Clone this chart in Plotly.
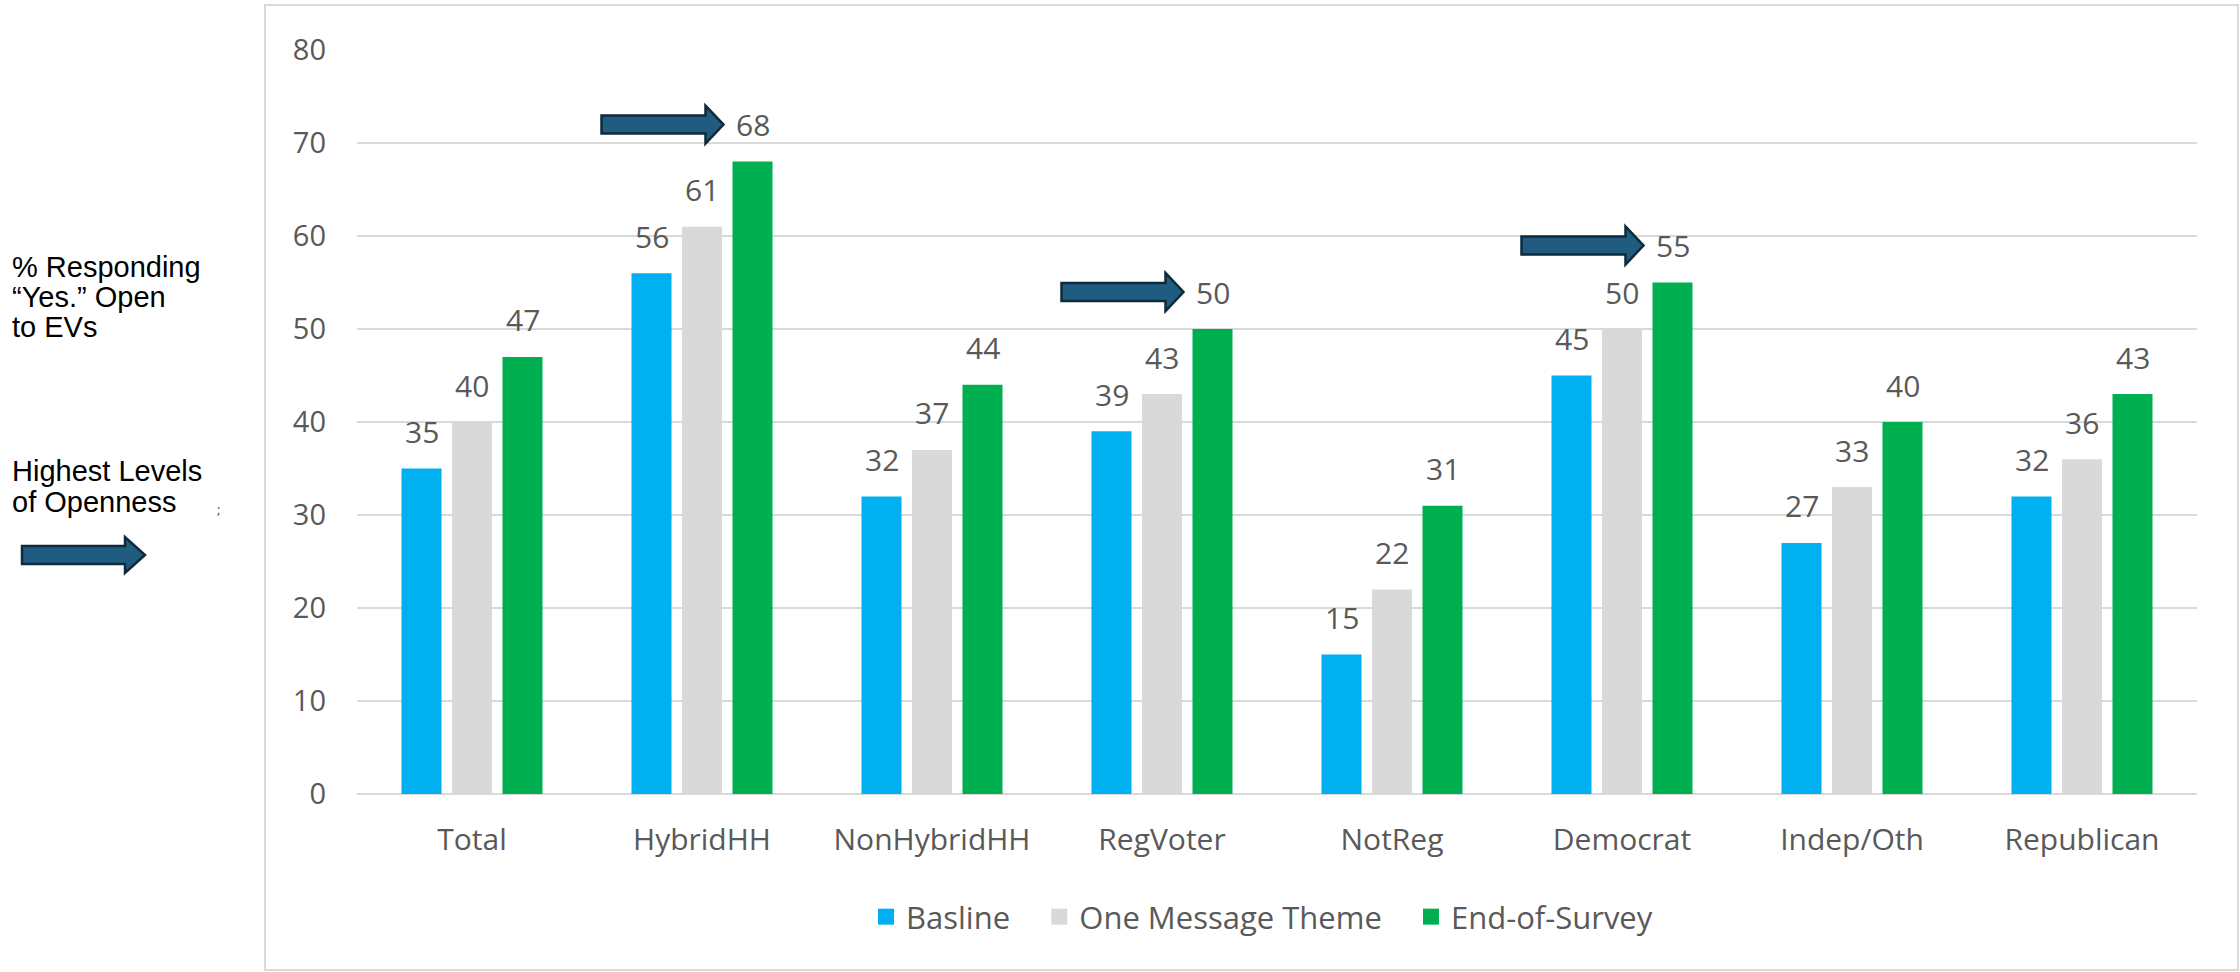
import plotly.graph_objects as go

categories = ["Total", "HybridHH", "NonHybridHH", "RegVoter", "NotReg", "Democrat", "Indep/Oth", "Republican"]
baseline = [35, 56, 32, 39, 15, 45, 27, 32]
one_message = [40, 61, 37, 43, 22, 50, 33, 36]
end_of_survey = [47, 68, 44, 50, 31, 55, 40, 43]
series_names = ["Basline", "One Message Theme", "End-of-Survey"]
series_colors = ["#00B0F0", "#D9D9D9", "#00B050"]
highlight = ["HybridHH", "RegVoter", "Democrat"]
y_ticks = [0, 10, 20, 30, 40, 50, 60, 70, 80]
side_lines_1 = ["% Responding", "\u201cYes.\u201d Open", "to EVs"]
side_lines_2 = ["Highest Levels", "of Openness"]

W, H = 2240, 972
ML, MR, MT, MB = 357, 43, 50, 178
GRID = "#D9D9D9"
TXT = "#595959"
FONT = "Open Sans"
ARROW_FILL = "#1F5C80"
ARROW_LINE = "#0E2A3C"
PAD = "\u00a0\u00a0\u00a0"

fig = go.Figure()
all_series = [baseline, one_message, end_of_survey]
for name, vals, col in zip(series_names, all_series, series_colors):
    fig.add_trace(go.Bar(x=categories, y=vals, name=name, marker=dict(color=col, line=dict(width=0)),
                         showlegend=False))
# legend proxies (larger square symbols)
for k, (name, col) in enumerate(zip(series_names, series_colors)):
    label = name + (PAD if k < len(series_names) - 1 else "")
    fig.add_trace(go.Scatter(x=[None], y=[None], mode="markers", name=label,
                             marker=dict(symbol="square", size=20, color=col)))

# data labels
slot = 50.5
annotations = []
for si, vals in enumerate(all_series):
    for c, v in zip(categories, vals):
        annotations.append(dict(x=c, y=v, xref="x", yref="y", text=str(v), showarrow=False,
                                xanchor="center", yanchor="middle", xshift=(si - 1) * slot, yshift=37,
                                font=dict(family=FONT, size=30, color=TXT)))

# left side text
def side_text(txt, py, size=29, color="#000000", family="Liberation Sans"):
    return dict(x=0, y=1, xref="paper", yref="paper", text=txt, showarrow=False, borderpad=0,
                xanchor="left", yanchor="middle", xshift=11 - ML, yshift=MT - py,
                font=dict(family=family, size=size, color=color))

for txt, py in zip(side_lines_1, [267, 297, 327]):
    annotations.append(side_text(txt, py))
for txt, py in zip(side_lines_2, [471, 502]):
    annotations.append(side_text(txt, py))
annotations.append(dict(x=0, y=1, xref="paper", yref="paper", text=";", showarrow=False,
                        xanchor="center", yanchor="middle", xshift=218 - ML, yshift=MT - 509,
                        font=dict(family="Noto Sans", size=13, color="#555555")))

shapes = []
# outer frame
shapes.append(dict(type="rect", xref="paper", yref="paper", xsizemode="pixel", ysizemode="pixel",
                   xanchor=0, yanchor=1, x0=265 - ML, x1=2238 - ML, y0=MT - 5, y1=MT - 970,
                   line=dict(color=GRID, width=2), fillcolor="rgba(0,0,0,0)", layer="below"))

def arrow_path(tip_x, cy, length=122, head=18, shaft=9, head_h=19):
    tail = tip_x - length
    hb = tip_x - head
    return (f"M {tail},{cy + shaft} L {hb},{cy + shaft} L {hb},{cy + head_h} L {tip_x},{cy} "
            f"L {hb},{cy - head_h} L {hb},{cy - shaft} L {tail},{cy - shaft} Z")

# arrows pointing at highlighted end-of-survey labels
for c in highlight:
    i = categories.index(c)
    v = end_of_survey[i]
    shapes.append(dict(type="path", xref="x", yref="y", xsizemode="pixel", ysizemode="pixel",
                       xanchor=i, yanchor=v, path=arrow_path(slot - 29, 37),
                       fillcolor=ARROW_FILL, line=dict(color=ARROW_LINE, width=2.5)))

# left legend arrow
shapes.append(dict(type="path", xref="paper", yref="paper", xsizemode="pixel", ysizemode="pixel",
                   xanchor=0, yanchor=1, path=arrow_path(145 - ML, MT - 555, length=123, head=20, shaft=9, head_h=18),
                   fillcolor=ARROW_FILL, line=dict(color=ARROW_LINE, width=2.5)))

fig.update_layout(
    width=W, height=H,
    margin=dict(l=ML, r=MR, t=MT, b=MB, pad=0),
    paper_bgcolor="white", plot_bgcolor="white",
    barmode="group", bargap=1 - 3 * slot / 230, bargroupgap=1 - 40 / slot,
    font=dict(family=FONT, color=TXT),
    legend=dict(orientation="h", x=(1262 - ML) / (W - ML - MR), xanchor="center",
                y=(794 - 917) / (972 - MT - MB), yanchor="middle",
                font=dict(family=FONT, size=31, color=TXT), itemwidth=30, bgcolor="rgba(0,0,0,0)"),
    annotations=annotations,
    shapes=shapes,
    xaxis=dict(type="category", showline=False, showgrid=False, ticks="",
               tickfont=dict(family=FONT, size=30, color=TXT), ticklabelstandoff=25),
    yaxis=dict(range=[0, 80], tickvals=y_ticks, showgrid=True, gridcolor=GRID, gridwidth=2,
               zeroline=True, zerolinecolor=GRID, zerolinewidth=2, showline=False, ticks="",
               tickfont=dict(family=FONT, size=29, color=TXT), ticklabelstandoff=30),
)

fig.write_html("out.html")
